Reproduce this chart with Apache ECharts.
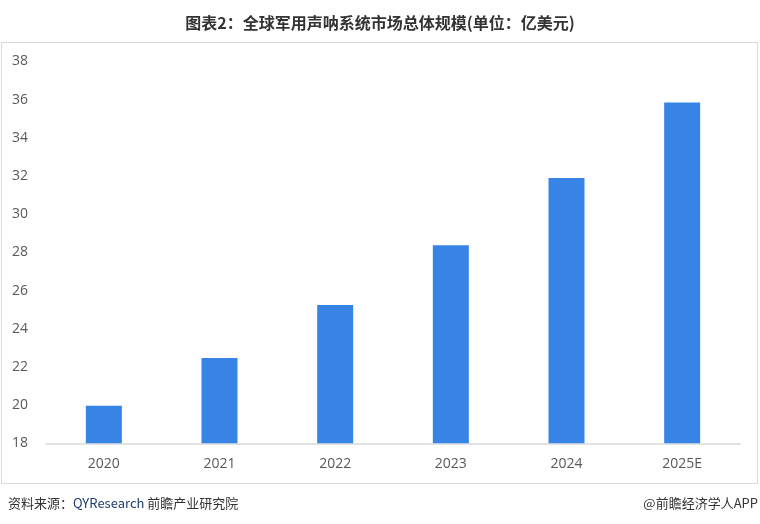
<!DOCTYPE html>
<html>
<head>
<meta charset="utf-8">
<script src="https://cdn.jsdelivr.net/npm/echarts@6/dist/echarts.min.js"></script>
<style>html,body{margin:0;padding:0;background:#fff}#c{width:760px;height:524px}</style>
</head>
<body>
<div id="c"></div>
<script>
const categories = ['2020', '2021', '2022', '2023', '2024', '2025E'];
const marketSize = [19.97, 22.47, 25.24, 28.38, 31.9, 35.85];
const yTicks = { min: 18, max: 38, interval: 2 };
const titleText = '图表2：全球军用声呐系统市场总体规模(单位：亿美元)';
const sourceLabel = '资料来源：';
const sourceOrg = 'QYResearch';
const sourceRest = ' 前瞻产业研究院';
const brandText = '@前瞻经济学人APP';

const chart = echarts.init(document.getElementById('c'), null, { renderer: 'canvas' });
chart.setOption({
  animation: false,
  backgroundColor: '#ffffff',
  title: {
    text: titleText,
    left: 'center',
    top: 10,
    textStyle: { fontFamily: 'Noto Sans CJK SC', fontSize: 16, fontWeight: 'bold', color: '#333333' }
  },
  graphic: [
    { type: 'rect', shape: { x: 1.5, y: 42.5, width: 756, height: 441 }, style: { fill: 'none', stroke: '#d9d9d9', lineWidth: 1 }, z: -1 },
    { type: 'text', left: 8, top: 497, style: { rich: { a: { fontFamily: 'Noto Sans CJK SC', fontSize: 13, fill: '#333333' }, b: { fontFamily: 'Noto Sans CJK SC', fontSize: 13, fill: '#1f3c6e' } }, text: '{a|' + sourceLabel + '}{b|' + sourceOrg + '}{a|' + sourceRest + '}' } },
    { type: 'text', right: 2, top: 497, style: { text: brandText, fontFamily: 'Noto Sans CJK SC', fontSize: 13, fill: '#333333' } }
  ],
  grid: { left: 46, right: 20, top: 61.5, bottom: 80.7, containLabel: false },
  xAxis: {
    type: 'category',
    data: categories,
    axisLine: { lineStyle: { color: '#d9d9d9', width: 1.5 } },
    axisTick: { show: false },
    axisLabel: { color: '#595959', fontFamily: 'Open Sans', fontSize: 14, margin: 14 }
  },
  yAxis: {
    type: 'value',
    min: yTicks.min, max: yTicks.max, interval: yTicks.interval,
    splitLine: { show: false },
    axisLine: { show: false },
    axisTick: { show: false },
    axisLabel: { color: '#595959', fontFamily: 'Open Sans', fontSize: 14, align: 'left', margin: 34 }
  },
  series: [{
    type: 'bar',
    data: marketSize,
    barWidth: 36,
    itemStyle: { color: '#3784e6' }
  }]
});
</script>
</body>
</html>
